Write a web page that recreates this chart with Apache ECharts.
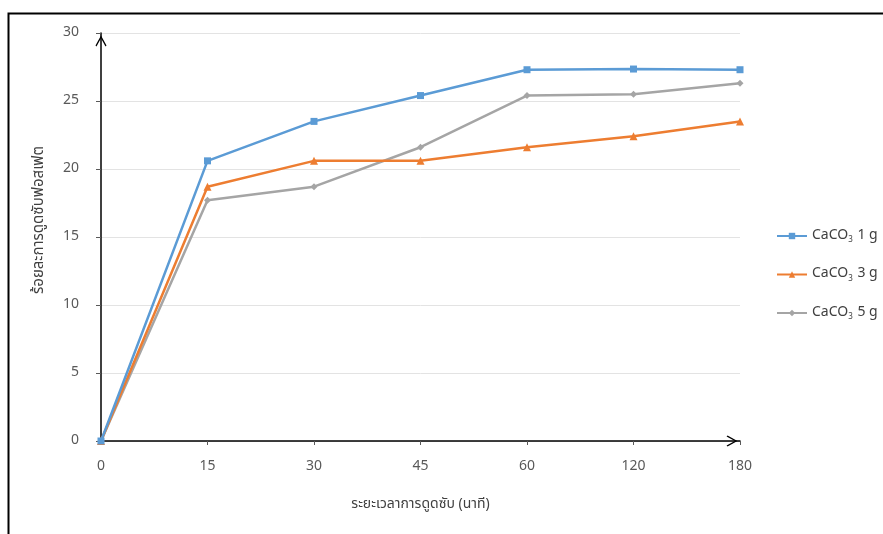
<!DOCTYPE html>
<html>
<head>
<meta charset="utf-8">
<script src="https://cdn.jsdelivr.net/npm/echarts@6/dist/echarts.min.js"></script>
<style>html,body{margin:0;padding:0;background:#fff}#c{width:883px;height:534px}</style>
</head>
<body>
<div id="c"></div>
<script>
const categories = ['0', '15', '30', '45', '60', '120', '180'];
const yTicks = [0, 5, 10, 15, 20, 25, 30];
const seriesNames = ['CaCO3 1 g', 'CaCO3 3 g', 'CaCO3 5 g'];
const caco3_1g = [0, 20.6, 23.5, 25.4, 27.3, 27.35, 27.3];
const caco3_3g = [0, 18.7, 20.6, 20.6, 21.6, 22.4, 23.5];
const caco3_5g = [0, 17.7, 18.7, 21.6, 25.4, 25.5, 26.3];
const xTitle = 'ระยะเวลาการดูดซับ (นาที)';
const yTitle = 'ร้อยละการดูดซับฟอสเฟต';

const colors = ['#5b9bd5', '#ed7d31', '#a5a5a5'];
const symbols = ['rect', 'triangle', 'diamond'];
const symSizes = [7, 8, 7];
const dataSets = [caco3_1g, caco3_3g, caco3_5g];
const chevron = 'path://M0,9 L5,0 L10,9 L9.1,9.9 L5,2.4 L0.9,9.9 Z';
const font = '"Noto Sans Thai","Noto Sans","DejaVu Sans",sans-serif';

const chart = echarts.init(document.getElementById('c'), null, {renderer: 'canvas'});
chart.setOption({
  backgroundColor: '#ffffff',
  animation: false,
  textStyle: {fontFamily: font},
  graphic: [{
    type: 'rect', left: 6, top: 11, silent: true, z: -1,
    shape: {width: 900, height: 600},
    style: {fill: 'none', stroke: '#000', lineWidth: 2}
  }],
  grid: {left: 101, right: 143, top: 33, bottom: 93, containLabel: false},
  legend: {
    orient: 'vertical', left: 771, top: 224, itemGap: 23,
    itemWidth: 30, itemHeight: 8,
    data: seriesNames,
    formatter: function (n) {
      const parts = n.split(' ');
      return 'CaCO{sub|3} ' + parts[1] + ' ' + parts[2];
    },
    textStyle: {
      fontSize: 14, color: '#404040', fontFamily: font,
      rich: {sub: {fontSize: 8, color: '#404040', padding: [9, 1, 0, 0]}}
    }
  },
  xAxis: {
    type: 'category', data: categories, boundaryGap: false,
    name: xTitle, nameLocation: 'middle', nameGap: 57,
    nameTextStyle: {fontSize: 14, color: '#404040', fontFamily: font},
    axisLine: {show: true, lineStyle: {color: '#000', width: 1.5}, symbol: ['none', chevron], symbolSize: [11, 16], symbolOffset: [0, -8]},
    axisTick: {show: true, alignWithLabel: true, length: 4, lineStyle: {color: '#595959'}},
    axisLabel: {fontSize: 14, color: '#595959', margin: 19},
    splitLine: {show: false}
  },
  yAxis: {
    type: 'value', min: 0, max: 30, interval: 5,
    name: yTitle, nameLocation: 'middle', nameGap: 54, nameRotate: 90,
    nameTextStyle: {fontSize: 15, color: '#404040', fontFamily: font, padding: [0, 0, 0, 34]},
    axisLine: {show: true, lineStyle: {color: '#000', width: 1.5}, symbol: ['none', chevron], symbolSize: [11, 16], symbolOffset: [0, -8]},
    axisTick: {show: true, length: 5, lineStyle: {color: '#595959'}},
    axisLabel: {fontSize: 14, color: '#595959', margin: 22},
    splitLine: {show: true, lineStyle: {color: '#e3e3e3', width: 1}}
  },
  series: seriesNames.map(function (name, i) {
    return {
      name: name, type: 'line', data: dataSets[i],
      symbol: symbols[i], symbolSize: symSizes[i], showSymbol: true,
      itemStyle: {color: colors[i]},
      lineStyle: {color: colors[i], width: 2.5},
      z: 3 - i
    };
  })
});
</script>
</body>
</html>
